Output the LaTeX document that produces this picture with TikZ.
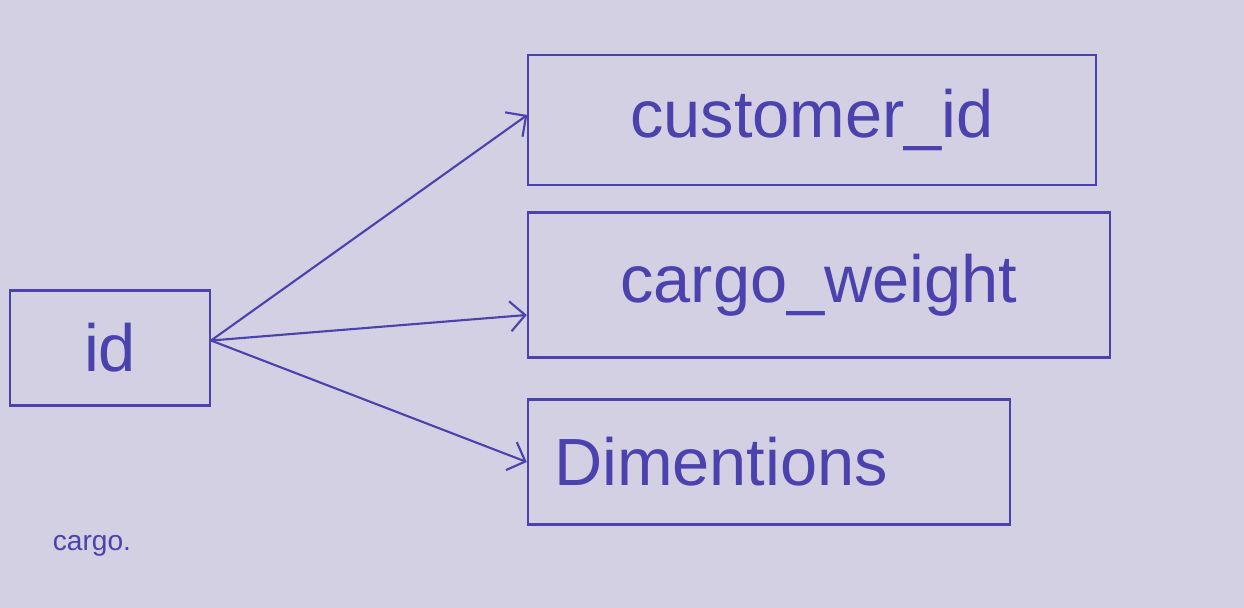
\documentclass[tikz,border=0pt]{standalone}
\usepackage{fontspec}
\setmainfont{Liberation Sans}
\usetikzlibrary{positioning,arrows.meta}
\definecolor{paper}{HTML}{D2D0E2}
\definecolor{ink}{HTML}{4B42AE}
\begin{document}
\begin{tikzpicture}[x=0.02cm, y=-0.02cm, auto]
		
		% Paper background fixes the size
		\fill[paper] (0,0) rectangle (1244,608);
		
		% Define box style
		\tikzstyle{field} = [rectangle, draw=ink, line width=1.2pt, text=ink, 
		font=\fontsize{38}{42}\selectfont, inner sep=0pt]
		
		% Nodes
		\node[field, minimum width=4cm, minimum height=2.3cm] (id) at (110,348) {id};
		\node[field, minimum width=11.35cm, minimum height=2.6cm] (customer) at (812,120) {customer\_id};
		\node[field, minimum width=11.65cm, minimum height=2.9cm] (weight) at (819,285) {cargo\_weight};
		\node[field, minimum width=9.65cm, minimum height=2.5cm, text width=8.6cm, align=left] (dimentions) at (769,462) {Dimentions};
		\node[text=ink, font=\fontsize{16}{18}\selectfont] (label) at (92,546) {cargo.};
		
		% Arrows
		\draw[-{Straight Barb[length=3mm]}, ink, line width=1.2pt] ([yshift=0.15cm]id.east) -- ([yshift=0.1cm]customer.west);
		\draw[-{Straight Barb[length=3mm]}, ink, line width=1.2pt] ([yshift=0.15cm]id.east) -- ([yshift=-0.6cm]weight.west);
		\draw[-{Straight Barb[length=3mm]}, ink, line width=1.2pt] ([yshift=0.15cm]id.east) -- (dimentions.west);
		
	\end{tikzpicture}
\end{document}
